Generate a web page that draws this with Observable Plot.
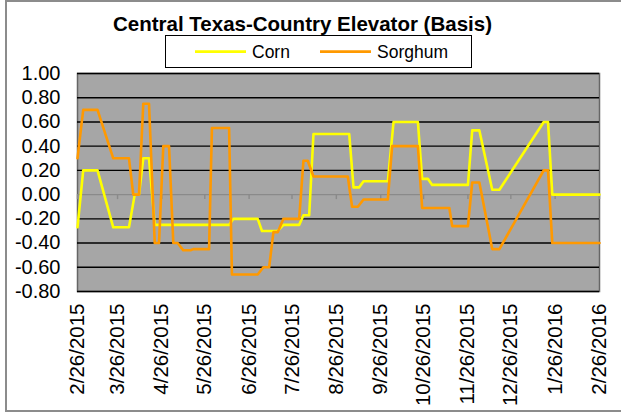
<!DOCTYPE html>
<html><head><meta charset="utf-8">
<script src="https://cdn.jsdelivr.net/npm/d3@7"></script>
<script src="https://cdn.jsdelivr.net/npm/@observablehq/plot@0.6"></script>
<style>
body{margin:0;background:#fff;font-family:"Liberation Sans",Arial,sans-serif;}
#wrap{position:relative;width:621px;height:415px;overflow:hidden;background:#fff;}
#chart{position:absolute;left:0;top:0;}
#border{position:absolute;left:5px;top:0;width:630px;height:412px;box-sizing:border-box;border:2px solid #8c8c8c;pointer-events:none;}
#title{position:absolute;left:0;width:605px;top:14px;text-align:center;font-weight:bold;font-size:20.5px;line-height:20.5px;white-space:nowrap;}
#legend{position:absolute;left:0;top:0;}
</style></head><body>
<div id="wrap"><div id="chart"></div><div id="border"></div><div id="title"></div><svg id="legend" width="621" height="72"></svg></div>
<script>
const titleText = "Central Texas-Country Elevator (Basis)";
const seriesNames = ["Corn", "Sorghum"];
const seriesColors = ["#ffff00", "#ff9900"];

const cornDates = ["2015-02-26","2015-03-02","2015-03-12","2015-03-23","2015-04-03","2015-04-07","2015-04-10","2015-04-13","2015-04-17","2015-04-21",
  "2015-06-12","2015-06-15","2015-07-02","2015-07-05","2015-07-16","2015-07-20","2015-07-31","2015-08-03","2015-08-07","2015-08-10",
  "2015-09-04","2015-09-07","2015-09-11","2015-09-14","2015-10-01","2015-10-05","2015-10-22","2015-10-25","2015-10-29","2015-11-01",
  "2015-11-26","2015-11-29","2015-12-04","2015-12-13","2015-12-18","2016-01-18","2016-01-21","2016-01-24","2016-02-26"];
const cornValues = [-0.27,0.20,0.20,-0.27,-0.27,0.00,0.00,0.30,0.30,-0.25,
  -0.25,-0.20,-0.20,-0.30,-0.30,-0.25,-0.25,-0.17,-0.17,0.50,
  0.50,0.06,0.06,0.11,0.11,0.60,0.60,0.13,0.13,0.08,
  0.08,0.53,0.53,0.04,0.04,0.60,0.60,0.00,0.00];

const sorghumDates = ["2015-02-26","2015-03-02","2015-03-12","2015-03-23","2015-04-03","2015-04-06","2015-04-10","2015-04-13","2015-04-17","2015-04-21",
  "2015-04-24","2015-04-27","2015-05-01","2015-05-04","2015-05-07","2015-05-11","2015-05-16","2015-05-18","2015-05-29","2015-05-31",
  "2015-06-12","2015-06-14","2015-07-02","2015-07-06","2015-07-10","2015-07-13","2015-07-16","2015-07-20","2015-07-31","2015-08-03",
  "2015-08-06","2015-08-10","2015-09-03","2015-09-06","2015-09-10","2015-09-14","2015-10-01","2015-10-04","2015-10-22","2015-10-25",
  "2015-11-13","2015-11-15","2015-11-26","2015-11-29","2015-12-04","2015-12-13","2015-12-18","2016-01-18","2016-01-21","2016-01-24","2016-02-26"];
const sorghumValues = [0.30,0.70,0.70,0.30,0.30,0.00,0.00,0.75,0.75,-0.40,
  -0.40,0.40,0.40,-0.40,-0.40,-0.46,-0.46,-0.45,-0.45,0.55,
  0.55,-0.66,-0.66,-0.60,-0.60,-0.31,-0.31,-0.20,-0.20,0.28,
  0.28,0.15,0.15,-0.10,-0.10,-0.04,-0.04,0.40,0.40,-0.11,
  -0.11,-0.26,-0.26,0.10,0.10,-0.45,-0.45,0.20,0.20,-0.40,-0.40];

const xTickDates = ["2015-02-26","2015-03-26","2015-04-26","2015-05-26","2015-06-26","2015-07-26","2015-08-26",
  "2015-09-26","2015-10-26","2015-11-26","2015-12-26","2016-01-26","2016-02-26"];
const yTicks = [-0.8,-0.6,-0.4,-0.2,0,0.2,0.4,0.6,0.8,1.0];

const parse = s => new Date(s + "T00:00:00Z");
const fmtDate = d => `${d.getUTCMonth() + 1}/${d.getUTCDate()}/${d.getUTCFullYear()}`;
const rows = [];
cornDates.forEach((d, i) => rows.push({series: seriesNames[0], date: parse(d), value: cornValues[i]}));
sorghumDates.forEach((d, i) => rows.push({series: seriesNames[1], date: parse(d), value: sorghumValues[i]}));
const ticks = xTickDates.map(parse);

document.getElementById("title").textContent = titleText;

const chart = Plot.plot({
  width: 621, height: 415,
  marginLeft: 77, marginRight: 22, marginTop: 73, marginBottom: 124,
  style: {fontFamily: "'Liberation Sans', Arial, sans-serif", fontSize: "20px", color: "#000", background: "transparent"},
  x: {type: "utc", domain: [ticks[0], ticks[ticks.length - 1]]},
  y: {domain: [-0.8, 1.0]},
  color: {domain: seriesNames, range: seriesColors},
  marks: [
    Plot.frame({fill: "#a6a6a6", stroke: "#666", strokeWidth: 1.5}),
    Plot.ruleY(yTicks.filter(v => v !== 0), {stroke: "#000", strokeWidth: 1.4}),
    Plot.ruleY([0], {stroke: "#8a8a8a", strokeWidth: 1.4}),
    Plot.ruleX(ticks, {x: d => d, y1: 0, y2: 0, insetBottom: -5, stroke: "#8a8a8a", strokeWidth: 1.4}),
    Plot.line(rows, {x: "date", y: "value", z: "series", stroke: "series", strokeWidth: 2.6, strokeLinejoin: "round"}),
    Plot.axisY({ticks: yTicks, tickFormat: d => d.toFixed(2), tickSize: 0, tickPadding: 17, fontSize: 20, label: null}),
    Plot.axisX({ticks: ticks, tickFormat: fmtDate, tickRotate: -90, tickSize: 0, tickPadding: 12, fontSize: 20.5, label: null})
  ]
});
document.getElementById("chart").appendChild(chart);

// legend
const lg = d3.select("#legend");
lg.append("rect").attr("x", 165.5).attr("y", 35.5).attr("width", 306).attr("height", 32)
  .attr("fill", "#fff").attr("stroke", "#000").attr("stroke-width", 1);
const legX = [195, 320];
seriesNames.forEach((n, i) => {
  lg.append("line").attr("x1", legX[i]).attr("x2", legX[i] + 51).attr("y1", 51.7).attr("y2", 51.7)
    .attr("stroke", seriesColors[i]).attr("stroke-width", 2.7);
  lg.append("text").attr("x", legX[i] + 57).attr("y", 57.5).text(n)
    .attr("font-family", "'Liberation Sans', Arial, sans-serif").attr("font-size", 17.5).attr("fill", "#000");
});
</script>
</body></html>
